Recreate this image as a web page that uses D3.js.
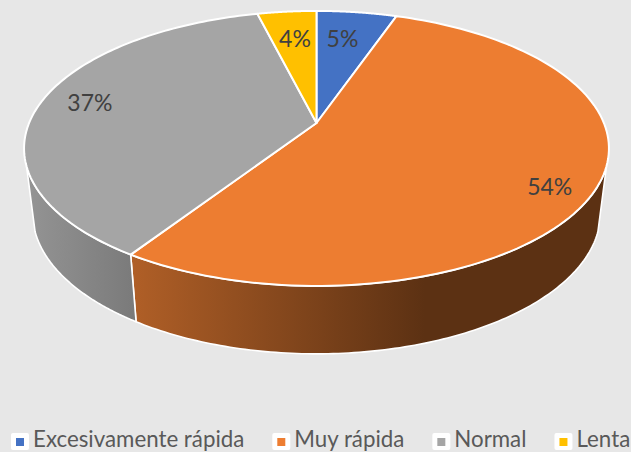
<!DOCTYPE html>
<html><head><meta charset="utf-8">
<style>html,body{margin:0;padding:0;background:#e7e7e7;overflow:hidden}svg{display:block}text{font-family:Lato,"Open Sans",sans-serif}</style>
<script src="https://cdn.jsdelivr.net/npm/d3@7"></script></head>
<body><svg id="c" width="631" height="452"></svg>
<script>
const categories = ["Excesivamente rápida", "Muy rápida", "Normal", "Lenta"];
const values = [5.3, 53.9, 36.9, 3.9];
const labels = ["5%", "54%", "37%", "4%"];
const colors = ["#4472c4", "#ed7d31", "#a5a5a5", "#ffc000"];

const svg = d3.select("#c");
const defs = svg.append("defs");
const color = d3.scaleOrdinal(categories, colors);
const arcs = d3.pie().sort(null)(values);
arcs.forEach((d, i) => d.cat = categories[i]);

// Perspective projection of the disc
const k = 0.185, cx = 316.5;
const topPt = a => { const u = Math.sin(a), v = Math.cos(a), w = 1 + k * v;
  return [cx + 287.4 * u / w, 123 - 132.8 * v / w]; };
const botPt = a => { const u = Math.sin(a), v = Math.cos(a), w = 1 + k * v;
  return [cx + 279 * u / w, 187 - 136 * v / w]; };
const samples = (a0, a1) => d3.range(0, 121).map(i => a0 + (a1 - a0) * i / 120);
const line = d3.line();
const rad = Math.PI / 180;
const silR = 108 * rad, silL = 252 * rad;

// Side walls
const sideFill = {
  "Muy rápida": ["#b05f27", "#5c3113", 132, 425],
  "Normal": ["#949494", "#7a7a7a", 26, 136]
};
Object.entries(sideFill).forEach(([n, [c0, c1, x0, x1]], i) => {
  const g = defs.append("linearGradient").attr("id", "side" + i)
    .attr("gradientUnits", "userSpaceOnUse").attr("x1", x0).attr("x2", x1).attr("y1", 0).attr("y2", 0);
  g.append("stop").attr("offset", 0).attr("stop-color", c0);
  g.append("stop").attr("offset", 1).attr("stop-color", c1);
});
arcs.forEach(d => {
  const a0 = Math.max(d.startAngle, silR), a1 = Math.min(d.endAngle, silL);
  if (a1 <= a0) return;
  const s = samples(a0, a1);
  const pts = s.map(topPt).concat(s.slice().reverse().map(botPt));
  svg.append("path").attr("d", line(pts) + "Z")
    .attr("fill", "url(#side" + Object.keys(sideFill).indexOf(d.cat) + ")")
    .attr("stroke", "#fff").attr("stroke-width", 1.6).attr("stroke-linejoin", "round");
});

// Top faces
svg.append("g").selectAll("path").data(arcs).join("path")
  .attr("d", d => line([[cx, 123]].concat(samples(d.startAngle, d.endAngle).map(topPt))) + "Z")
  .attr("fill", d => color(d.cat))
  .attr("stroke", "#fff").attr("stroke-width", 2).attr("stroke-linejoin", "round");

// Data labels, placed inward from each slice's rim midpoint
const labelInset = [[0.645, 0.758], [0.83, 1.01], [0.824, 0.94], [0.726, 0.753]];
svg.append("g").selectAll("text").data(arcs).join("text")
  .attr("transform", (d, i) => {
    const m = topPt((d.startAngle + d.endAngle) / 2);
    const [fx, fy] = labelInset[i];
    return `translate(${cx + (m[0] - cx) * fx},${123 + (m[1] - 123) * fy})`;
  })
  .attr("text-anchor", "middle").attr("dy", "0.35em")
  .attr("font-size", 23).attr("fill", "#404040")
  .text((d, i) => labels[i]);

// Legend
const lg = svg.append("g");
let lx = 11;
categories.forEach(c => {
  lg.append("rect").attr("x", lx).attr("y", 433).attr("width", 18).attr("height", 17).attr("rx", 2).attr("fill", "#fff");
  lg.append("rect").attr("x", lx + 5).attr("y", 438).attr("width", 8).attr("height", 8).attr("fill", color(c));
  const t = lg.append("text").attr("x", lx + 22).attr("y", 447).attr("font-size", 22.3).attr("fill", "#595959").text(c);
  lx += 22 + t.node().getComputedTextLength() + 28;
});
</script></body></html>
